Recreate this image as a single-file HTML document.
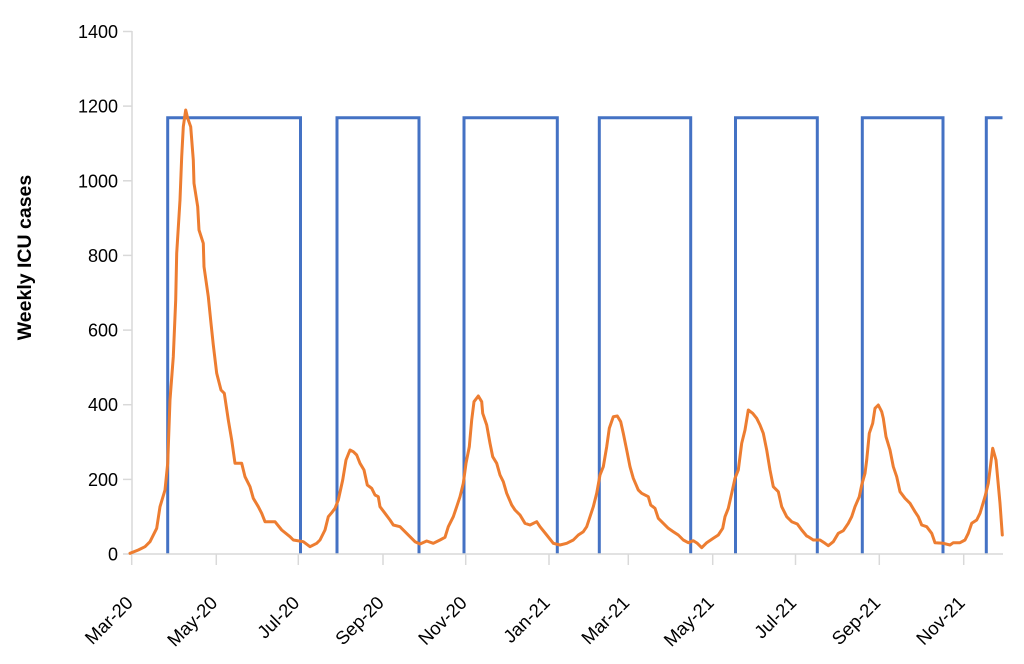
<!DOCTYPE html>
<html>
<head>
<meta charset="utf-8">
<style>
  html, body { margin:0; padding:0; background:#ffffff; }
  body { width:1024px; height:664px; overflow:hidden; }
  svg { display:block; }
  text { font-family: "Liberation Sans", Arial, sans-serif; fill:#000; }
</style>
</head>
<body>
<svg width="1024" height="664" viewBox="0 0 1024 664" xmlns="http://www.w3.org/2000/svg">
  <rect x="0" y="0" width="1024" height="664" fill="#ffffff"/>

  <!-- blue square wave (verticals + tops only; bottom sits on axis) -->
  <path fill="none" stroke="#4472c4" stroke-width="3" stroke-linejoin="miter"
    d="M167.7,554 V117.7 H300.5 V554
       M337,554 V117.7 H419 V554
       M464,554 V117.7 H557.3 V554
       M599.3,554 V117.7 H690.7 V554
       M735.5,554 V117.7 H817.3 V554
       M862.3,554 V117.7 H943 V554
       M986.3,554 V117.7 H1002.5"/>

  <!-- axes -->
  <g stroke="#d9d9d9" stroke-width="1.5" fill="none">
    <line x1="132" y1="31" x2="132" y2="554"/>
    <line x1="123" y1="554" x2="1003" y2="554"/>
    <!-- y ticks -->
    <line x1="123" y1="31.5" x2="132" y2="31.5"/>
    <line x1="123" y1="106.1" x2="132" y2="106.1"/>
    <line x1="123" y1="180.8" x2="132" y2="180.8"/>
    <line x1="123" y1="255.4" x2="132" y2="255.4"/>
    <line x1="123" y1="330.1" x2="132" y2="330.1"/>
    <line x1="123" y1="404.7" x2="132" y2="404.7"/>
    <line x1="123" y1="479.4" x2="132" y2="479.4"/>
    <!-- x ticks -->
    <line x1="131.7" y1="554" x2="131.7" y2="565"/>
    <line x1="216.3" y1="554" x2="216.3" y2="565"/>
    <line x1="298.3" y1="554" x2="298.3" y2="565"/>
    <line x1="383" y1="554" x2="383" y2="565"/>
    <line x1="465.7" y1="554" x2="465.7" y2="565"/>
    <line x1="549" y1="554" x2="549" y2="565"/>
    <line x1="628.3" y1="554" x2="628.3" y2="565"/>
    <line x1="712.7" y1="554" x2="712.7" y2="565"/>
    <line x1="795.5" y1="554" x2="795.5" y2="565"/>
    <line x1="879.3" y1="554" x2="879.3" y2="565"/>
    <line x1="963.7" y1="554" x2="963.7" y2="565"/>
  </g>

  <!-- y tick labels -->
  <g font-size="18" text-anchor="end">
    <text x="118" y="38">1400</text>
    <text x="118" y="112.6">1200</text>
    <text x="118" y="187.3">1000</text>
    <text x="118" y="261.9">800</text>
    <text x="118" y="336.6">600</text>
    <text x="118" y="411.2">400</text>
    <text x="118" y="485.9">200</text>
    <text x="118" y="560.5">0</text>
  </g>

  <!-- y axis title -->
  <text x="0" y="0" font-size="19.5" font-weight="bold" text-anchor="middle" transform="translate(31,257.5) rotate(-90)">Weekly ICU cases</text>

  <!-- x tick labels -->
  <g font-size="18.5" text-anchor="end">
    <text transform="translate(134,604) rotate(-45)">Mar-20</text>
    <text transform="translate(218.5,604) rotate(-45)">May-20</text>
    <text transform="translate(300.5,604) rotate(-45)">Jul-20</text>
    <text transform="translate(385,604) rotate(-45)">Sep-20</text>
    <text transform="translate(468,604) rotate(-45)">Nov-20</text>
    <text transform="translate(551,604) rotate(-45)">Jan-21</text>
    <text transform="translate(630.5,604) rotate(-45)">Mar-21</text>
    <text transform="translate(715,604) rotate(-45)">May-21</text>
    <text transform="translate(797.5,604) rotate(-45)">Jul-21</text>
    <text transform="translate(881.5,604) rotate(-45)">Sep-21</text>
    <text transform="translate(966,604) rotate(-45)">Nov-21</text>
  </g>

  <!-- orange series -->
  <polyline fill="none" stroke="#ed7d31" stroke-width="3" stroke-linejoin="round" stroke-linecap="round"
    points="130,553.3 138.3,550 145,546.7 150,541.7 156.7,528.3 160,506.7 165,490 167.7,463.3 170,400 173.3,356.7 175.7,300 176.7,253.3 180,200 181.7,156.7 183.3,126.7 185.7,110 187.7,118.3 190.7,126.7 193.3,160 194,183.3 197.7,206.7 199,230 203.3,243.3 204,266.7 208.3,296.7 211,323.3 213.3,345 216.7,373.3 221,390 224.3,393.3 228.3,420 231.7,440 235,463.3 241.7,463.3 245,476.7 250,486.7 253.3,498.3 258.3,506.7 261.7,513.3 265,521.7 275,521.7 281.7,530 290,536.7 293.3,540 303.3,541.7 310,546.7 316.7,543.3 320,540 325,530 328.3,516.7 331.7,512.7 335,508.3 338.3,500 342.7,480 346,460 350,450 353.3,451.7 356.7,455 360,463.3 364,470 367.3,485 371.7,488.3 375,495 378.3,496.7 380,506.7 385,513.3 390,520 393.3,525 400,526.7 405,531.7 410,536.7 415,541.7 420,544 426.7,541 433.3,543.3 440,540 445,537.3 448.3,526.7 453.3,516.7 456.7,506.7 460,496.7 463.3,483.3 466,463.3 469.3,446.7 471.7,420 474,401.7 478.3,396 481.7,401.7 482.7,413.3 486.7,425 490,443.3 492.7,456.7 496.7,463.3 500,475 503.3,481.7 506.7,493.3 511.7,505 515,510 520,515 525,523.3 530,525 536.7,521.7 540,526.7 546.7,535 553.3,543.3 560,545 566.7,543.3 573.3,540 578.3,535 583.3,531.7 586.7,526.7 590,516.7 593.3,506.7 596.7,493.3 600,475 603.3,466.7 606.7,446.7 609.3,428.3 613.3,416.7 617.3,416 620.7,421.7 623.3,433.3 626.7,450 630,466.7 633.3,478.3 638.3,490 641.7,493.3 648.3,496.7 650.7,505 655,508.3 658.3,518.3 663.3,523.3 668.3,528.3 673.3,531.7 678.3,535 683.3,540 688.3,542.7 693.3,540.7 697.3,543.3 701.7,547.7 706.7,542.7 713.3,538.3 718.3,535 722.7,528.3 725,516.7 728.3,508.3 731.7,493.3 735,478.3 738.3,470 741.7,443.3 745,430 748.3,410 752.7,413.3 756.7,418.3 760,425 763.3,433.3 766.7,450 770,470 773.3,486.7 778.3,491.7 781.7,506.7 786.7,516.7 791.7,521.7 797.3,524 801.7,530 806.7,536 808.3,536.7 813.3,540 820,540 825,543.3 828.3,545.7 833.3,541.7 838.3,533.3 843.3,530.7 848.3,523.3 851.7,516.7 855,506.7 859.3,496.7 861.7,485 865,473.3 866.7,460 869.3,433.3 872.7,423.3 875,408.3 878.3,405 881.7,411.7 883.3,418.3 886,436.7 890,450 893.3,466.7 896.7,476.7 900,491.7 905,498.3 910,503.3 915,511.7 918.3,516.7 921.7,525 926.7,526.7 931.7,533.3 935,542.7 943.3,543.3 950,545 953.3,542.7 960,542.7 965,540 968.3,533.3 971.7,523.3 976.7,520 980,513.3 985,496.7 988.3,483.3 992.7,448.3 996,460 1000,503.3 1002.3,535"/>
</svg>
</body>
</html>
